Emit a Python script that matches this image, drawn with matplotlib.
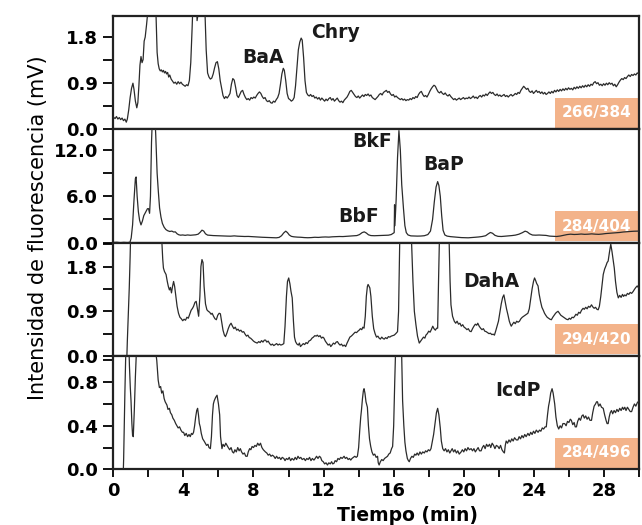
import matplotlib
matplotlib.use("Agg")
import matplotlib.pyplot as plt
from matplotlib.patches import Rectangle
from matplotlib.ticker import MultipleLocator

# chromatogram traces: (tiempo en min, señal en mV)
trace_266_384 = [
    (0.00, 0.24), (0.10, 0.21), (0.18, 0.25), (0.26, 0.20), (0.34, 0.23), (0.42, 0.19), (0.50, 0.22),
    (0.58, 0.17), (0.66, 0.20), (0.74, 0.14), (0.80, 0.20), (0.88, 0.38), (0.96, 0.62), (1.04, 0.80),
    (1.12, 0.90), (1.18, 0.78), (1.26, 0.55), (1.34, 0.42), (1.40, 0.52), (1.46, 0.85), (1.52, 1.25),
    (1.58, 1.42), (1.64, 1.30), (1.70, 1.36), (1.76, 1.72), (1.82, 1.80), (1.90, 2.05), (1.97, 2.30),
    (2.05, 2.90), (2.20, 3.60), (2.36, 2.90), (2.44, 2.20), (2.50, 1.50), (2.56, 1.28), (2.62, 1.18),
    (2.68, 1.14), (2.74, 1.16), (2.80, 1.12), (2.86, 1.15), (2.92, 1.10), (2.98, 1.13), (3.04, 1.08),
    (3.10, 1.11), (3.16, 1.02), (3.22, 1.06), (3.30, 0.98), (3.38, 0.94), (3.46, 0.90), (3.54, 0.92),
    (3.62, 0.88), (3.70, 0.93), (3.78, 0.89), (3.86, 0.92), (3.94, 0.88), (4.02, 0.86), (4.10, 0.84),
    (4.18, 0.87), (4.26, 0.85), (4.34, 0.95), (4.42, 1.30), (4.50, 2.00), (4.58, 2.80), (4.68, 3.30),
    (4.78, 2.12), (4.86, 2.30), (4.96, 3.40), (5.10, 3.30), (5.22, 2.40), (5.30, 1.55), (5.38, 1.10),
    (5.46, 1.02), (5.54, 0.98), (5.62, 1.00), (5.70, 1.08), (5.78, 1.20), (5.86, 1.30), (5.94, 1.32),
    (6.02, 1.18), (6.10, 0.95), (6.18, 0.80), (6.26, 0.66), (6.34, 0.60), (6.42, 0.64), (6.50, 0.61),
    (6.58, 0.65), (6.66, 0.70), (6.74, 0.88), (6.82, 0.99), (6.90, 0.96), (6.98, 0.82), (7.06, 0.66),
    (7.14, 0.62), (7.22, 0.68), (7.30, 0.74), (7.38, 0.76), (7.46, 0.68), (7.54, 0.62), (7.62, 0.58),
    (7.70, 0.60), (7.78, 0.57), (7.86, 0.62), (7.94, 0.60), (8.02, 0.63), (8.10, 0.61), (8.18, 0.66),
    (8.26, 0.70), (8.34, 0.73), (8.42, 0.70), (8.50, 0.64), (8.58, 0.60), (8.66, 0.62), (8.74, 0.56),
    (8.82, 0.54), (8.90, 0.56), (8.98, 0.52), (9.06, 0.51), (9.14, 0.55), (9.22, 0.53), (9.30, 0.58),
    (9.38, 0.62), (9.46, 0.70), (9.54, 0.88), (9.62, 1.08), (9.70, 1.19), (9.76, 1.15), (9.84, 0.95),
    (9.92, 0.70), (10.00, 0.60), (10.08, 0.58), (10.16, 0.55), (10.24, 0.57), (10.32, 0.62), (10.40, 0.85),
    (10.48, 1.20), (10.56, 1.55), (10.64, 1.70), (10.72, 1.78), (10.78, 1.74), (10.86, 1.40), (10.94, 0.95),
    (11.02, 0.72), (11.10, 0.67), (11.18, 0.65), (11.26, 0.68), (11.34, 0.64), (11.42, 0.66), (11.50, 0.61),
    (11.58, 0.63), (11.66, 0.59), (11.74, 0.62), (11.82, 0.57), (11.90, 0.61), (11.98, 0.58), (12.06, 0.55),
    (12.14, 0.59), (12.22, 0.56), (12.30, 0.60), (12.38, 0.62), (12.46, 0.57), (12.54, 0.60), (12.62, 0.55),
    (12.70, 0.58), (12.78, 0.61), (12.86, 0.56), (12.94, 0.53), (13.02, 0.55), (13.10, 0.52), (13.18, 0.57),
    (13.26, 0.60), (13.34, 0.63), (13.42, 0.68), (13.50, 0.74), (13.58, 0.76), (13.66, 0.72), (13.74, 0.68),
    (13.82, 0.64), (13.90, 0.62), (13.98, 0.65), (14.06, 0.61), (14.14, 0.64), (14.22, 0.67), (14.30, 0.64),
    (14.38, 0.68), (14.46, 0.66), (14.54, 0.69), (14.62, 0.65), (14.70, 0.67), (14.78, 0.62), (14.86, 0.60),
    (14.94, 0.58), (15.02, 0.61), (15.10, 0.64), (15.18, 0.68), (15.26, 0.70), (15.34, 0.67), (15.42, 0.72),
    (15.50, 0.74), (15.58, 0.76), (15.66, 0.72), (15.74, 0.74), (15.82, 0.69), (15.90, 0.66), (15.98, 0.68),
    (16.06, 0.63), (16.14, 0.65), (16.22, 0.62), (16.30, 0.60), (16.38, 0.58), (16.46, 0.60), (16.54, 0.57),
    (16.62, 0.59), (16.70, 0.56), (16.78, 0.58), (16.86, 0.57), (16.94, 0.60), (17.02, 0.58), (17.10, 0.62),
    (17.18, 0.60), (17.26, 0.64), (17.34, 0.62), (17.42, 0.68), (17.50, 0.72), (17.58, 0.74), (17.66, 0.68),
    (17.74, 0.64), (17.82, 0.66), (17.90, 0.63), (17.98, 0.68), (18.06, 0.74), (18.14, 0.79), (18.22, 0.83),
    (18.30, 0.86), (18.38, 0.84), (18.46, 0.78), (18.54, 0.73), (18.62, 0.71), (18.70, 0.74), (18.78, 0.70),
    (18.86, 0.68), (18.94, 0.71), (19.02, 0.67), (19.10, 0.65), (19.18, 0.68), (19.26, 0.64), (19.34, 0.61),
    (19.42, 0.58), (19.50, 0.60), (19.58, 0.57), (19.66, 0.59), (19.74, 0.61), (19.82, 0.58), (19.90, 0.60),
    (19.98, 0.62), (20.06, 0.59), (20.14, 0.61), (20.22, 0.60), (20.30, 0.63), (20.38, 0.60), (20.46, 0.62),
    (20.54, 0.65), (20.62, 0.61), (20.70, 0.63), (20.78, 0.60), (20.86, 0.64), (20.94, 0.66), (21.02, 0.63),
    (21.10, 0.67), (21.18, 0.65), (21.26, 0.69), (21.34, 0.66), (21.42, 0.70), (21.50, 0.73), (21.58, 0.70),
    (21.66, 0.72), (21.74, 0.68), (21.82, 0.66), (21.90, 0.69), (21.98, 0.65), (22.06, 0.67), (22.14, 0.64),
    (22.22, 0.66), (22.30, 0.68), (22.38, 0.64), (22.46, 0.66), (22.54, 0.63), (22.62, 0.66), (22.70, 0.68),
    (22.78, 0.65), (22.86, 0.67), (22.94, 0.70), (23.02, 0.68), (23.10, 0.72), (23.18, 0.70), (23.26, 0.76),
    (23.34, 0.80), (23.42, 0.84), (23.50, 0.81), (23.58, 0.78), (23.66, 0.80), (23.74, 0.74), (23.82, 0.72),
    (23.90, 0.75), (23.98, 0.70), (24.06, 0.73), (24.14, 0.76), (24.22, 0.72), (24.30, 0.74), (24.38, 0.70),
    (24.46, 0.73), (24.54, 0.69), (24.62, 0.72), (24.70, 0.68), (24.78, 0.70), (24.86, 0.73), (24.94, 0.70),
    (25.02, 0.74), (25.10, 0.71), (25.18, 0.76), (25.26, 0.73), (25.34, 0.77), (25.42, 0.74), (25.50, 0.78),
    (25.58, 0.75), (25.66, 0.79), (25.74, 0.76), (25.82, 0.80), (25.90, 0.77), (25.98, 0.81), (26.06, 0.78),
    (26.14, 0.80), (26.22, 0.77), (26.30, 0.82), (26.38, 0.79), (26.46, 0.83), (26.54, 0.80), (26.62, 0.84),
    (26.70, 0.81), (26.78, 0.85), (26.86, 0.82), (26.94, 0.86), (27.02, 0.83), (27.10, 0.87), (27.18, 0.84),
    (27.26, 0.88), (27.34, 0.86), (27.42, 0.91), (27.50, 0.93), (27.58, 0.89), (27.66, 0.91), (27.74, 0.86),
    (27.82, 0.88), (27.90, 0.85), (27.98, 0.89), (28.06, 0.86), (28.14, 0.90), (28.22, 0.87), (28.30, 0.91),
    (28.38, 0.88), (28.46, 0.90), (28.54, 0.85), (28.62, 0.88), (28.70, 0.83), (28.78, 0.87), (28.86, 0.92),
    (28.94, 0.96), (29.02, 0.99), (29.10, 0.97), (29.18, 1.01), (29.26, 0.99), (29.34, 1.03), (29.42, 1.06),
    (29.50, 1.03), (29.58, 1.07), (29.66, 1.05), (29.74, 1.08), (29.82, 1.06), (29.90, 1.10), (30.00, 1.08),
]

trace_284_404 = [
    (0.00, 0.03), (0.20, 0.05), (0.40, 0.00), (0.60, 0.04), (0.80, 0.01), (0.95, 0.05), (1.02, 0.60),
    (1.10, 2.30), (1.18, 5.50), (1.26, 8.30), (1.30, 8.50), (1.36, 6.00), (1.43, 4.00), (1.50, 2.90),
    (1.58, 2.30), (1.66, 2.80), (1.74, 3.50), (1.81, 3.80), (1.88, 4.10), (1.95, 4.40), (2.01, 4.40),
    (2.07, 3.80), (2.12, 6.00), (2.18, 13.0), (2.26, 18.0), (2.36, 17.0), (2.42, 14.0), (2.50, 9.00),
    (2.57, 6.60), (2.64, 4.50), (2.72, 3.30), (2.80, 2.50), (2.90, 2.00), (3.00, 1.70), (3.10, 1.55),
    (3.22, 1.45), (3.34, 1.50), (3.44, 1.38), (3.54, 1.40), (3.64, 1.15), (3.74, 1.02), (3.84, 0.97),
    (3.96, 1.00), (4.10, 0.95), (4.24, 1.00), (4.40, 0.96), (4.56, 0.99), (4.70, 1.02), (4.84, 1.10),
    (4.96, 1.35), (5.06, 1.62), (5.16, 1.50), (5.26, 1.15), (5.38, 0.98), (5.52, 0.95), (5.70, 0.92),
    (5.90, 0.90), (6.10, 0.88), (6.30, 0.86), (6.50, 0.85), (6.70, 0.84), (6.90, 0.88), (7.10, 0.84),
    (7.30, 0.82), (7.50, 0.80), (7.70, 0.81), (7.90, 0.78), (8.10, 0.76), (8.30, 0.72), (8.50, 0.70),
    (8.70, 0.68), (8.90, 0.66), (9.10, 0.64), (9.30, 0.63), (9.46, 0.68), (9.60, 0.90), (9.72, 1.25),
    (9.84, 1.49), (9.94, 1.30), (10.04, 1.00), (10.16, 0.82), (10.30, 0.76), (10.50, 0.72), (10.70, 0.70),
    (10.90, 0.66), (11.10, 0.64), (11.30, 0.66), (11.50, 0.70), (11.70, 0.68), (11.90, 0.72), (12.10, 0.74),
    (12.30, 0.72), (12.50, 0.76), (12.70, 0.78), (12.90, 0.80), (13.10, 0.79), (13.30, 0.82), (13.50, 0.85),
    (13.70, 0.88), (13.90, 0.92), (14.05, 1.05), (14.20, 1.30), (14.32, 1.40), (14.44, 1.25), (14.56, 1.02),
    (14.70, 0.92), (14.90, 0.90), (15.10, 0.92), (15.30, 0.94), (15.50, 0.95), (15.70, 0.97), (15.86, 1.05),
    (15.96, 1.20), (16.03, 1.30), (16.05, 4.90), (16.07, 2.20), (16.14, 5.50), (16.22, 11.0), (16.30, 14.5),
    (16.38, 12.0), (16.46, 7.50), (16.56, 4.40), (16.64, 2.20), (16.72, 1.30), (16.82, 1.00), (16.98, 0.88),
    (17.15, 0.86), (17.35, 0.85), (17.55, 0.86), (17.75, 0.90), (17.95, 1.05), (18.10, 1.50), (18.22, 3.00),
    (18.32, 5.30), (18.42, 7.20), (18.51, 7.90), (18.58, 7.40), (18.66, 6.00), (18.74, 3.50), (18.82, 1.60),
    (18.92, 1.00), (19.05, 0.85), (19.25, 0.78), (19.45, 0.74), (19.65, 0.70), (19.85, 0.66), (20.05, 0.64),
    (20.25, 0.63), (20.45, 0.66), (20.65, 0.70), (20.85, 0.74), (21.05, 0.80), (21.25, 0.90), (21.40, 1.15),
    (21.52, 1.32), (21.64, 1.22), (21.78, 0.95), (21.95, 0.82), (22.15, 0.80), (22.35, 0.84), (22.55, 0.88),
    (22.75, 0.92), (22.95, 0.98), (23.15, 1.10), (23.35, 1.30), (23.50, 1.49), (23.62, 1.40), (23.76, 1.15),
    (23.92, 0.99), (24.10, 0.97), (24.30, 0.99), (24.50, 0.97), (24.70, 0.94), (24.90, 0.85), (25.10, 0.82),
    (25.30, 0.80), (25.50, 0.86), (25.70, 0.95), (25.90, 1.05), (26.10, 1.10), (26.30, 1.06), (26.50, 1.08),
    (26.70, 1.12), (26.90, 1.08), (27.10, 1.10), (27.30, 1.14), (27.50, 1.10), (27.70, 1.08), (27.90, 1.12),
    (28.10, 1.18), (28.30, 1.22), (28.50, 1.25), (28.70, 1.28), (28.90, 1.32), (29.10, 1.38), (29.30, 1.42),
    (29.50, 1.45), (29.70, 1.48), (30.00, 1.50),
]

trace_294_420 = [
    (0.77, -0.05), (0.80, 0.30), (0.86, 0.90), (0.91, 1.37), (0.96, 2.00), (1.00, 2.60), (1.10, 4.00),
    (1.60, 5.00), (2.20, 5.00), (2.60, 3.50), (2.77, 2.28), (2.82, 1.95), (2.86, 1.77), (2.92, 1.70),
    (3.01, 1.64), (3.08, 1.50), (3.14, 1.40), (3.20, 1.33), (3.26, 1.38), (3.32, 1.27), (3.38, 1.40),
    (3.44, 1.50), (3.50, 1.40), (3.57, 1.20), (3.64, 1.00), (3.72, 0.86), (3.80, 0.78), (3.88, 0.75),
    (3.96, 0.71), (4.04, 0.74), (4.12, 0.72), (4.20, 0.78), (4.28, 0.76), (4.36, 0.84), (4.44, 0.92),
    (4.52, 0.96), (4.58, 1.00), (4.66, 1.08), (4.73, 1.10), (4.80, 0.95), (4.87, 0.80), (4.94, 1.20),
    (5.00, 1.80), (5.06, 1.94), (5.12, 1.88), (5.18, 1.40), (5.26, 1.05), (5.34, 0.93), (5.42, 0.90),
    (5.50, 0.88), (5.58, 0.84), (5.64, 0.86), (5.72, 0.80), (5.80, 0.75), (5.88, 0.73), (5.96, 0.82),
    (6.04, 0.86), (6.11, 0.85), (6.18, 0.70), (6.26, 0.52), (6.34, 0.42), (6.40, 0.39), (6.48, 0.46),
    (6.56, 0.55), (6.64, 0.62), (6.72, 0.66), (6.80, 0.60), (6.88, 0.55), (6.96, 0.58), (7.04, 0.52),
    (7.12, 0.54), (7.20, 0.50), (7.28, 0.52), (7.36, 0.48), (7.44, 0.49), (7.52, 0.44), (7.60, 0.40),
    (7.68, 0.42), (7.76, 0.37), (7.83, 0.36), (7.92, 0.33), (8.00, 0.30), (8.08, 0.28), (8.14, 0.27),
    (8.21, 0.26), (8.30, 0.29), (8.38, 0.27), (8.46, 0.31), (8.54, 0.28), (8.62, 0.32), (8.69, 0.32),
    (8.76, 0.28), (8.84, 0.30), (8.92, 0.25), (9.00, 0.22), (9.08, 0.24), (9.16, 0.21), (9.24, 0.23),
    (9.32, 0.25), (9.40, 0.22), (9.48, 0.24), (9.56, 0.22), (9.64, 0.23), (9.73, 0.25), (9.80, 0.60),
    (9.88, 1.20), (9.94, 1.50), (10.01, 1.57), (10.08, 1.45), (10.14, 1.30), (10.21, 1.17), (10.28, 0.70),
    (10.34, 0.38), (10.40, 0.29), (10.48, 0.24), (10.56, 0.22), (10.62, 0.26), (10.68, 0.19), (10.76, 0.22),
    (10.84, 0.25), (10.92, 0.23), (11.00, 0.27), (11.08, 0.25), (11.16, 0.30), (11.26, 0.32), (11.34, 0.36),
    (11.42, 0.38), (11.50, 0.41), (11.58, 0.40), (11.64, 0.42), (11.72, 0.39), (11.80, 0.41), (11.88, 0.36),
    (11.96, 0.38), (12.02, 0.36), (12.10, 0.30), (12.18, 0.26), (12.26, 0.22), (12.34, 0.24), (12.41, 0.19),
    (12.48, 0.22), (12.56, 0.26), (12.64, 0.24), (12.72, 0.28), (12.79, 0.29), (12.86, 0.25), (12.94, 0.22),
    (13.02, 0.24), (13.10, 0.20), (13.18, 0.22), (13.26, 0.19), (13.34, 0.26), (13.42, 0.32), (13.50, 0.38),
    (13.58, 0.40), (13.64, 0.42), (13.72, 0.45), (13.80, 0.48), (13.88, 0.47), (13.96, 0.50), (14.03, 0.52),
    (14.10, 0.55), (14.18, 0.53), (14.24, 0.58), (14.31, 0.56), (14.38, 0.80), (14.44, 1.20), (14.50, 1.40),
    (14.54, 1.44), (14.60, 1.40), (14.64, 1.37), (14.70, 1.20), (14.78, 0.80), (14.86, 0.55), (14.94, 0.45),
    (15.02, 0.38), (15.10, 0.40), (15.17, 0.36), (15.24, 0.34), (15.32, 0.38), (15.40, 0.35), (15.46, 0.34),
    (15.54, 0.37), (15.62, 0.35), (15.70, 0.39), (15.78, 0.38), (15.86, 0.40), (15.94, 0.41), (16.03, 0.42),
    (16.12, 0.45), (16.22, 0.49), (16.28, 0.90), (16.35, 2.40), (16.45, 5.00), (16.70, 6.00), (16.95, 3.00),
    (17.02, 2.30), (17.10, 1.50), (17.18, 0.90), (17.27, 0.63), (17.36, 0.40), (17.46, 0.26), (17.54, 0.30),
    (17.62, 0.34), (17.70, 0.38), (17.78, 0.36), (17.84, 0.42), (17.92, 0.45), (18.00, 0.50), (18.08, 0.48),
    (18.16, 0.54), (18.23, 0.60), (18.30, 0.55), (18.38, 0.52), (18.45, 0.56), (18.51, 0.56), (18.56, 1.50),
    (18.62, 2.50), (18.80, 5.00), (19.05, 4.00), (19.16, 2.40), (19.22, 1.50), (19.27, 1.03), (19.36, 0.80),
    (19.46, 0.70), (19.54, 0.66), (19.62, 0.70), (19.70, 0.64), (19.78, 0.66), (19.86, 0.60), (19.94, 0.63),
    (20.02, 0.58), (20.10, 0.56), (20.18, 0.53), (20.26, 0.55), (20.34, 0.50), (20.42, 0.49), (20.50, 0.55),
    (20.58, 0.60), (20.66, 0.64), (20.74, 0.62), (20.80, 0.66), (20.88, 0.60), (20.96, 0.56), (21.04, 0.53),
    (21.12, 0.55), (21.20, 0.50), (21.28, 0.49), (21.36, 0.47), (21.44, 0.45), (21.52, 0.46), (21.60, 0.43),
    (21.68, 0.44), (21.75, 0.42), (21.82, 0.50), (21.90, 0.60), (21.98, 0.70), (22.06, 0.88), (22.14, 1.05),
    (22.22, 1.18), (22.29, 1.23), (22.36, 1.10), (22.44, 0.95), (22.52, 0.83), (22.60, 0.70), (22.66, 0.64),
    (22.71, 0.60), (22.78, 0.64), (22.86, 0.68), (22.94, 0.65), (23.02, 0.70), (23.10, 0.68), (23.18, 0.70),
    (23.26, 0.75), (23.34, 0.78), (23.42, 0.80), (23.50, 0.82), (23.58, 0.84), (23.66, 0.86), (23.74, 0.95),
    (23.82, 1.15), (23.90, 1.35), (23.98, 1.50), (24.04, 1.57), (24.10, 1.52), (24.16, 1.46), (24.24, 1.41),
    (24.30, 1.25), (24.38, 1.10), (24.46, 0.98), (24.54, 0.92), (24.61, 0.86), (24.68, 0.82), (24.76, 0.78),
    (24.84, 0.76), (24.92, 0.74), (25.00, 0.73), (25.08, 0.78), (25.16, 0.82), (25.24, 0.86), (25.30, 0.88),
    (25.38, 0.90), (25.46, 0.86), (25.54, 0.82), (25.62, 0.80), (25.70, 0.78), (25.78, 0.76), (25.86, 0.74),
    (25.95, 0.73), (26.02, 0.76), (26.10, 0.74), (26.18, 0.78), (26.26, 0.77), (26.33, 0.80), (26.40, 0.84),
    (26.48, 0.82), (26.56, 0.88), (26.64, 0.86), (26.72, 0.92), (26.81, 0.96), (26.88, 0.94), (26.96, 0.98),
    (27.04, 0.95), (27.12, 1.00), (27.20, 0.98), (27.29, 1.03), (27.36, 0.99), (27.44, 0.96), (27.52, 0.98),
    (27.60, 0.94), (27.67, 0.93), (27.74, 1.00), (27.82, 1.20), (27.90, 1.45), (27.96, 1.64), (28.04, 1.75),
    (28.12, 1.82), (28.18, 1.88), (28.24, 1.91), (28.32, 2.10), (28.39, 2.25), (28.46, 2.10), (28.52, 1.95),
    (28.59, 1.77), (28.66, 1.50), (28.74, 1.28), (28.82, 1.17), (28.90, 1.22), (28.98, 1.18), (29.06, 1.24),
    (29.12, 1.20), (29.19, 1.23), (29.26, 1.21), (29.34, 1.26), (29.42, 1.24), (29.50, 1.28), (29.58, 1.26),
    (29.67, 1.30), (29.74, 1.34), (29.82, 1.38), (29.90, 1.41), (30.00, 1.36),
]

trace_284_496 = [
    (0.57, -0.02), (0.59, 0.10), (0.61, 0.27), (0.66, 0.70), (0.73, 1.20), (0.80, 1.50), (0.88, 1.20),
    (0.92, 0.95), (0.97, 0.75), (1.01, 0.63), (1.06, 0.42), (1.10, 0.31), (1.14, 0.30), (1.20, 0.55),
    (1.26, 0.85), (1.31, 1.05), (1.40, 1.50), (1.80, 2.00), (2.30, 1.40), (2.44, 1.05), (2.48, 1.00),
    (2.56, 0.82), (2.63, 0.75), (2.70, 0.76), (2.76, 0.70), (2.83, 0.72), (2.90, 0.65), (2.96, 0.62),
    (3.06, 0.59), (3.12, 0.55), (3.20, 0.56), (3.26, 0.52), (3.34, 0.50), (3.40, 0.47), (3.48, 0.45),
    (3.56, 0.42), (3.63, 0.40), (3.70, 0.38), (3.78, 0.39), (3.86, 0.36), (3.94, 0.34), (4.01, 0.34),
    (4.08, 0.31), (4.16, 0.33), (4.24, 0.30), (4.32, 0.32), (4.39, 0.30), (4.46, 0.33), (4.52, 0.32),
    (4.58, 0.34), (4.64, 0.40), (4.70, 0.48), (4.76, 0.54), (4.81, 0.56), (4.86, 0.50), (4.91, 0.42),
    (4.96, 0.39), (5.02, 0.33), (5.10, 0.28), (5.18, 0.26), (5.25, 0.24), (5.32, 0.22), (5.40, 0.23),
    (5.46, 0.20), (5.54, 0.19), (5.60, 0.30), (5.66, 0.50), (5.71, 0.60), (5.76, 0.63), (5.84, 0.66),
    (5.92, 0.68), (6.00, 0.60), (6.07, 0.50), (6.12, 0.30), (6.20, 0.19), (6.26, 0.23), (6.34, 0.21),
    (6.42, 0.24), (6.49, 0.22), (6.56, 0.20), (6.64, 0.18), (6.72, 0.20), (6.80, 0.16), (6.87, 0.15),
    (6.94, 0.18), (7.02, 0.16), (7.10, 0.20), (7.18, 0.17), (7.25, 0.19), (7.32, 0.16), (7.40, 0.14),
    (7.48, 0.15), (7.56, 0.12), (7.64, 0.12), (7.70, 0.16), (7.78, 0.19), (7.85, 0.18), (7.92, 0.21),
    (8.00, 0.20), (8.08, 0.22), (8.16, 0.21), (8.24, 0.24), (8.32, 0.22), (8.40, 0.24), (8.48, 0.20),
    (8.56, 0.18), (8.62, 0.17), (8.68, 0.16), (8.76, 0.15), (8.84, 0.13), (8.92, 0.14), (9.00, 0.12),
    (9.08, 0.13), (9.16, 0.12), (9.24, 0.10), (9.32, 0.12), (9.40, 0.10), (9.48, 0.11), (9.56, 0.09),
    (9.64, 0.11), (9.73, 0.10), (9.80, 0.08), (9.88, 0.10), (9.96, 0.09), (10.04, 0.11), (10.12, 0.08),
    (10.20, 0.10), (10.30, 0.085), (10.38, 0.11), (10.46, 0.09), (10.54, 0.12), (10.62, 0.10), (10.70, 0.11),
    (10.78, 0.09), (10.88, 0.10), (10.96, 0.08), (11.04, 0.10), (11.12, 0.09), (11.20, 0.11), (11.28, 0.08),
    (11.36, 0.10), (11.45, 0.085), (11.52, 0.10), (11.60, 0.12), (11.68, 0.10), (11.76, 0.12), (11.83, 0.11),
    (11.90, 0.08), (11.98, 0.07), (12.06, 0.05), (12.14, 0.06), (12.22, 0.04), (12.30, 0.06), (12.38, 0.05),
    (12.46, 0.07), (12.52, 0.05), (12.59, 0.055), (12.66, 0.08), (12.74, 0.07), (12.82, 0.10), (12.90, 0.09),
    (12.98, 0.11), (13.06, 0.10), (13.17, 0.12), (13.24, 0.10), (13.32, 0.11), (13.40, 0.09), (13.48, 0.10),
    (13.55, 0.085), (13.62, 0.10), (13.70, 0.11), (13.78, 0.12), (13.86, 0.11), (13.93, 0.12), (14.00, 0.20),
    (14.06, 0.35), (14.12, 0.48), (14.16, 0.54), (14.22, 0.65), (14.27, 0.72), (14.31, 0.74), (14.36, 0.70),
    (14.42, 0.62), (14.50, 0.57), (14.56, 0.40), (14.62, 0.28), (14.69, 0.21), (14.76, 0.16), (14.84, 0.13),
    (14.92, 0.14), (15.00, 0.11), (15.08, 0.12), (15.12, 0.06), (15.17, 0.04), (15.24, 0.07), (15.32, 0.09),
    (15.40, 0.08), (15.48, 0.10), (15.56, 0.11), (15.65, 0.12), (15.72, 0.14), (15.80, 0.15), (15.88, 0.19),
    (15.94, 0.21), (16.00, 0.40), (16.06, 0.80), (16.12, 1.15), (16.28, 1.40), (16.45, 1.10), (16.51, 0.63),
    (16.58, 0.40), (16.64, 0.25), (16.70, 0.17), (16.78, 0.10), (16.84, 0.08), (16.89, 0.07), (16.96, 0.10),
    (17.04, 0.12), (17.12, 0.11), (17.20, 0.14), (17.27, 0.13), (17.34, 0.15), (17.42, 0.13), (17.50, 0.16),
    (17.58, 0.14), (17.66, 0.16), (17.75, 0.15), (17.82, 0.17), (17.90, 0.16), (17.98, 0.18), (18.06, 0.17),
    (18.13, 0.19), (18.20, 0.25), (18.28, 0.32), (18.36, 0.42), (18.44, 0.52), (18.51, 0.56), (18.58, 0.50),
    (18.66, 0.38), (18.72, 0.26), (18.80, 0.19), (18.88, 0.17), (18.96, 0.19), (19.04, 0.16), (19.12, 0.18),
    (19.20, 0.15), (19.27, 0.17), (19.34, 0.19), (19.42, 0.16), (19.50, 0.18), (19.58, 0.15), (19.66, 0.17),
    (19.74, 0.14), (19.85, 0.16), (19.92, 0.18), (20.00, 0.16), (20.08, 0.19), (20.16, 0.17), (20.24, 0.20),
    (20.32, 0.18), (20.42, 0.19), (20.50, 0.17), (20.58, 0.19), (20.66, 0.16), (20.74, 0.18), (20.82, 0.20),
    (20.90, 0.17), (20.99, 0.17), (21.06, 0.20), (21.14, 0.22), (21.22, 0.19), (21.30, 0.23), (21.38, 0.21),
    (21.47, 0.23), (21.54, 0.20), (21.62, 0.24), (21.70, 0.22), (21.78, 0.19), (21.86, 0.22), (21.95, 0.21),
    (22.02, 0.19), (22.10, 0.22), (22.18, 0.18), (22.26, 0.16), (22.32, 0.15), (22.37, 0.22), (22.42, 0.26),
    (22.50, 0.24), (22.58, 0.27), (22.66, 0.25), (22.74, 0.28), (22.82, 0.26), (22.90, 0.29), (23.00, 0.27),
    (23.09, 0.27), (23.16, 0.30), (23.24, 0.28), (23.32, 0.31), (23.40, 0.29), (23.48, 0.32), (23.56, 0.30),
    (23.66, 0.33), (23.74, 0.31), (23.82, 0.34), (23.90, 0.32), (23.98, 0.35), (24.06, 0.33), (24.14, 0.36),
    (24.24, 0.34), (24.32, 0.36), (24.40, 0.35), (24.48, 0.38), (24.56, 0.37), (24.64, 0.39), (24.71, 0.39),
    (24.78, 0.50), (24.84, 0.58), (24.90, 0.63), (24.96, 0.70), (25.04, 0.74), (25.10, 0.70), (25.19, 0.60),
    (25.26, 0.48), (25.34, 0.40), (25.42, 0.37), (25.50, 0.40), (25.58, 0.38), (25.66, 0.42), (25.76, 0.42),
    (25.84, 0.40), (25.92, 0.44), (26.00, 0.43), (26.08, 0.46), (26.14, 0.45), (26.22, 0.41), (26.30, 0.43),
    (26.36, 0.39), (26.43, 0.39), (26.50, 0.44), (26.58, 0.47), (26.66, 0.45), (26.74, 0.49), (26.81, 0.50),
    (26.88, 0.47), (26.96, 0.49), (27.04, 0.46), (27.12, 0.48), (27.20, 0.45), (27.29, 0.45), (27.36, 0.52),
    (27.44, 0.58), (27.52, 0.60), (27.58, 0.62), (27.63, 0.62), (27.70, 0.58), (27.78, 0.60), (27.86, 0.57),
    (27.96, 0.56), (28.04, 0.50), (28.12, 0.45), (28.18, 0.42), (28.24, 0.42), (28.30, 0.48), (28.36, 0.52),
    (28.43, 0.54), (28.50, 0.51), (28.58, 0.54), (28.66, 0.52), (28.74, 0.55), (28.82, 0.53), (28.90, 0.56),
    (28.98, 0.54), (29.06, 0.57), (29.12, 0.55), (29.19, 0.57), (29.26, 0.54), (29.34, 0.57), (29.42, 0.55),
    (29.50, 0.53), (29.58, 0.53), (29.66, 0.57), (29.74, 0.60), (29.82, 0.58), (29.90, 0.61), (30.00, 0.63),
]

traces = [trace_266_384, trace_284_404, trace_294_420, trace_284_496]
wavelengths = ["266/384", "284/404", "294/420", "284/496"]
y_limits = [2.21, 14.66, 2.28, 1.04]
y_major = [0.9, 6.0, 0.9, 0.4]

# peak labels: (panel, name, tiempo, señal)
peak_labels = [
    (0, "BaA", 8.57, 1.41),
    (0, "Chry", 12.69, 1.88),
    (1, "BkF", 14.79, 13.07),
    (1, "BbF", 14.01, 3.35),
    (1, "BaP", 18.87, 10.05),
    (2, "DahA", 21.56, 1.50),
    (3, "IcdP", 23.09, 0.72),
]

fig, axes = plt.subplots(4, 1, sharex=True, figsize=(6.42, 5.25), dpi=100)
fig.subplots_adjust(left=0.1765, right=0.9953, top=0.9695, bottom=0.106, hspace=0)

for i, ax in enumerate(axes):
    t = [p[0] for p in traces[i]]
    s = [p[1] for p in traces[i]]
    ax.plot(t, s, color="#2b2b2b", lw=0.9, zorder=3)
    ax.set_xlim(0, 30)
    ax.set_ylim(0, y_limits[i])
    ax.yaxis.set_minor_locator(MultipleLocator(y_major[i] / 2))
    ticks = [k * y_major[i] for k in range(3)]
    ax.set_yticks(ticks)
    ax.set_yticklabels(["{:.1f}".format(v) for v in ticks],
                       fontsize=13, fontweight="bold", family="DejaVu Sans")
    ax.tick_params(axis="y", which="both", direction="out", length=7, width=1.3, pad=4)
    for sp in ax.spines.values():
        sp.set_linewidth(1.6)
        sp.set_color("#222222")

    # orange wavelength box
    ax.add_patch(Rectangle((0.84, 0.015), 0.16, 0.265, transform=ax.transAxes,
                           facecolor="#F3B38A", edgecolor="none", zorder=2))
    ax.text(0.92, 0.145, wavelengths[i], transform=ax.transAxes, ha="center", va="center",
            color="white", fontsize=11, fontweight="bold", zorder=2.5)

for panel, name, t, s in peak_labels:
    axes[panel].text(t, s, name, ha="center", va="center", fontsize=13.5,
                     fontweight="bold", color="#1a1a1a", zorder=4)

axb = axes[-1]
axb.xaxis.set_major_locator(MultipleLocator(4))
axb.xaxis.set_minor_locator(MultipleLocator(2))
axb.tick_params(axis="x", which="both", direction="out", length=6, width=1.3, pad=3,
                labelsize=13)
for lab in axb.get_xticklabels():
    lab.set_fontweight("bold")
for ax in axes[:-1]:
    ax.tick_params(axis="x", which="both", length=0)

fig.text(0.635, 0.019, "Tiempo (min)", ha="center", va="center", fontsize=13.5, fontweight="bold")
fig.text(0.059, 0.567, "Intensidad de fluorescencia (mV)", ha="center", va="center",
         rotation=90, fontsize=15)

fig.savefig("out.png", dpi=100)
